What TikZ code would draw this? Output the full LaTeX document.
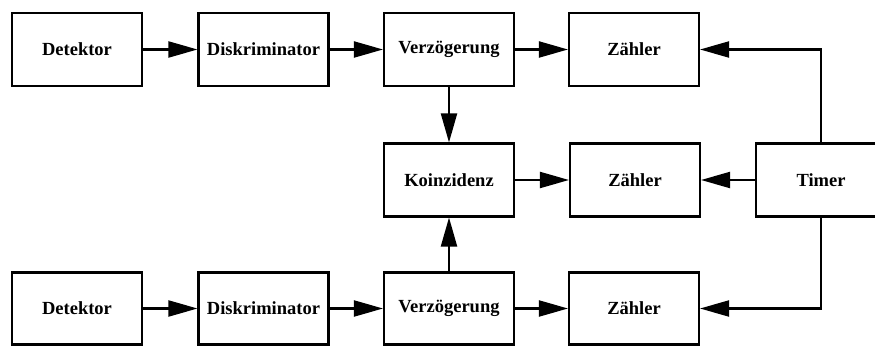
\documentclass[tikz,border=0pt]{standalone}
\usepackage{fontspec}
\setmainfont{Liberation Serif}
\usetikzlibrary{arrows.meta}
\begin{document}
\begin{tikzpicture}[x=1pt,y=-1pt,
  blk/.style={draw,line width=2.1pt,minimum width=130pt,minimum height=73pt,inner sep=0pt,
    font=\fontsize{18.5}{20}\selectfont\bfseries},
  conn/.style={line width=2.1pt,-{Triangle[length=29pt,width=16pt]}}]
\useasboundingbox (0,0) rectangle (875,347);
\node[blk] (det1) at (77,49.5) {\raisebox{-2pt}{Detektor}};
\node[blk] (dis1) at (263.5,49.5) {\raisebox{-2pt}{Diskriminator}};
\node[blk] (ver1) at (449,49.5) {\raisebox{-2pt}{Verzögerung}};
\node[blk] (z1) at (634,49.5) {\raisebox{-2pt}{Zähler}};
\node[blk] (koin) at (449,180) {\raisebox{-2pt}{Koinzidenz}};
\node[blk] (z2) at (635,180) {\raisebox{-2pt}{Zähler}};
\node[blk] (timer) at (821,180) {\raisebox{-2pt}{Timer}};
\node[blk,minimum height=72pt] (det2) at (77,308.5) {\raisebox{-2pt}{Detektor}};
\node[blk,minimum height=72pt] (dis2) at (263.5,308.5) {\raisebox{-2pt}{Diskriminator}};
\node[blk,minimum height=72pt] (ver2) at (449,308.5) {\raisebox{-2pt}{Verzögerung}};
\node[blk,minimum height=72pt] (z3) at (634,308.5) {\raisebox{-2pt}{Zähler}};
\draw[conn] (det1) -- (dis1);
\draw[conn] (dis1) -- (ver1);
\draw[conn] (ver1) -- (z1);
\draw[conn] (ver1) -- (koin);
\draw[conn] (koin) -- (z2);
\draw[conn] (timer) -- (z2);
\draw[conn] (timer.north) |- (z1.east);
\draw[conn] (det2) -- (dis2);
\draw[conn] (dis2) -- (ver2);
\draw[conn] (ver2) -- (z3);
\draw[conn] (ver2) -- (koin);
\draw[conn] (timer.south) |- (z3.east);
\end{tikzpicture}
\end{document}
